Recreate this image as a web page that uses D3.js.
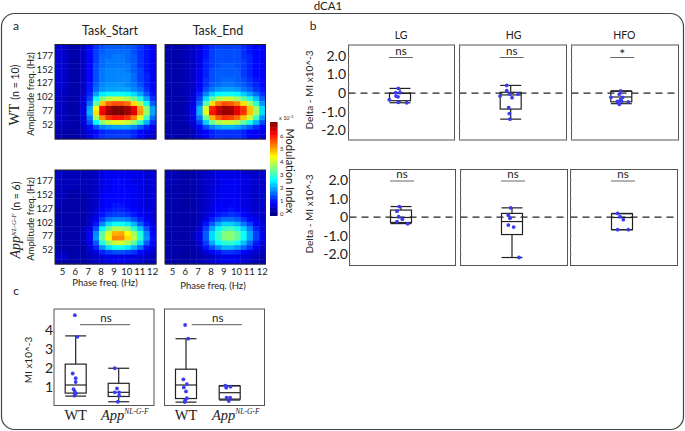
<!DOCTYPE html>
<html><head><meta charset="utf-8">
<script src="https://cdn.jsdelivr.net/npm/d3@7"></script>
<style>html,body{margin:0;background:#fff}svg{display:block}</style></head>
<body><div id="c"></div>
<script>
// Modulation index ×10^-4 : 20 amplitude rows (top to bottom), 16 phase columns
const wtStart=[
[6,5,3,3,4,8,12,14,15,15,15,15,14,12,10,8],
[6,5,3,3,5,9,13,15,16,16,16,16,14,12,10,8],
[6,5,3,3,5,9,13,16,16,17,17,16,15,12,10,8],
[6,5,3,3,5,9,13,16,17,17,17,16,15,12,10,8],
[6,5,3,3,5,9,14,16,17,17,17,17,15,12,10,8],
[6,5,3,3,5,9,14,17,18,18,18,17,15,13,10,8],
[6,5,3,3,5,9,14,17,18,18,18,18,16,13,11,8],
[6,5,3,3,5,9,14,17,18,18,18,18,16,13,11,8],
[6,5,3,3,5,10,15,18,19,19,19,18,17,14,11,9],
[5,5,3,3,5,10,16,19,20,20,20,20,18,16,12,9],
[5,4,3,3,5,11,20,25,27,27,27,26,24,20,15,10],
[5,4,3,3,6,13,27,35,39,40,40,38,34,28,20,12],
[5,4,3,3,6,16,33,48,54,56,56,54,46,38,27,15],
[5,4,3,3,7,20,44,61,67,70,70,68,62,50,36,20],
[5,4,3,3,7,21,46,62,68,70,70,68,63,51,37,20],
[5,4,3,3,6,17,37,52,58,60,60,58,52,42,30,16],
[5,4,3,3,6,14,26,36,40,42,42,40,36,30,21,12],
[4,3,3,3,5,9,14,18,19,20,20,20,18,15,11,8],
[3,3,2,3,4,7,9,11,12,12,12,12,11,9,7,6],
[3,3,2,3,4,7,10,12,13,13,13,13,11,9,7,5]];
const wtEnd=[
[3,3,3,4,5,7,10,12,13,13,13,13,12,10,8,8],
[3,3,3,4,5,7,10,13,14,14,14,14,12,10,9,8],
[3,3,3,4,5,7,10,13,14,14,14,14,12,11,9,8],
[3,3,3,4,5,7,11,13,14,14,14,14,13,11,9,8],
[3,3,3,4,5,7,11,13,14,15,15,14,13,11,9,8],
[3,3,3,4,5,8,11,14,15,15,15,15,13,11,9,8],
[3,3,3,4,5,8,11,14,15,15,15,15,13,11,9,8],
[3,3,3,4,5,8,12,14,15,16,16,15,14,12,10,9],
[3,3,3,4,5,8,12,15,16,17,17,16,15,13,11,9],
[3,3,3,4,5,9,14,17,19,20,20,19,17,15,12,10],
[3,3,3,4,6,11,18,23,26,27,27,26,23,20,16,12],
[3,3,3,4,6,13,24,33,38,40,40,37,33,28,22,15],
[3,3,3,4,7,16,32,46,53,56,55,52,46,38,29,19],
[3,3,3,4,8,21,41,59,65,68,67,62,58,48,37,24],
[3,3,3,4,8,21,42,60,66,68,68,63,58,48,37,24],
[3,3,3,4,7,17,33,49,55,58,57,54,48,40,30,19],
[3,3,3,4,6,13,23,34,38,40,40,38,33,28,21,14],
[3,3,3,3,5,9,14,18,20,21,21,20,18,15,12,9],
[3,3,3,3,4,7,9,11,12,12,12,12,11,9,8,7],
[3,3,3,3,4,7,9,11,12,12,12,12,11,9,8,6]];
const koStart=[
[5,4,4,4,4,4,5,7,8,8,8,8,7,7,6,6],
[5,4,4,4,4,4,5,7,8,8,8,8,7,7,6,6],
[4,4,4,4,4,4,5,7,8,9,9,8,7,7,6,6],
[4,4,4,4,4,4,5,7,8,9,9,8,8,7,6,6],
[4,4,3,3,4,4,5,7,8,9,9,9,8,7,6,6],
[4,4,3,3,3,4,5,8,9,9,9,9,8,7,6,6],
[4,3,3,3,3,4,5,8,9,9,9,9,8,7,6,6],
[4,3,3,3,3,4,5,8,9,10,10,9,8,7,6,6],
[3,3,3,3,3,4,6,9,10,11,11,10,9,8,7,6],
[3,3,3,3,3,4,6,10,12,13,13,12,10,8,7,6],
[3,3,3,3,3,5,8,13,17,18,18,17,14,11,8,6],
[3,3,3,3,3,5,10,18,24,27,27,25,21,15,10,7],
[3,3,3,3,4,7,14,26,34,38,38,36,29,22,14,8],
[3,3,3,3,4,8,18,33,41,49,50,44,37,28,18,9],
[3,3,3,3,4,8,19,34,43,52,52,46,39,29,19,10],
[3,3,3,3,4,7,15,28,36,40,41,38,32,24,15,9],
[3,3,3,3,3,6,11,19,24,27,27,25,21,16,10,7],
[4,4,3,3,3,5,7,11,13,14,14,13,12,9,7,5],
[5,5,3,3,3,4,5,6,7,7,7,7,6,6,5,4],
[3,3,3,3,3,4,5,6,7,8,8,7,6,5,4,4]];
const koEnd=[
[4,4,3,3,3,4,5,6,7,7,7,7,6,5,5,5],
[4,4,3,3,3,4,5,6,7,7,7,7,7,6,5,5],
[4,3,3,3,3,4,5,6,7,8,8,8,7,6,5,5],
[4,3,3,3,3,4,5,6,7,8,8,8,7,6,5,5],
[3,3,3,3,3,4,5,6,7,8,8,8,7,6,5,5],
[3,3,3,3,3,4,5,6,7,8,8,8,7,6,5,5],
[3,3,3,2,3,4,5,6,8,8,8,8,7,6,5,5],
[3,3,3,2,3,4,5,7,8,8,9,8,7,6,5,5],
[3,3,3,3,3,4,5,7,8,9,10,9,8,6,5,5],
[3,3,3,3,3,4,6,8,10,11,12,11,9,7,6,5],
[3,3,3,3,3,4,7,11,14,16,16,15,12,9,7,5],
[3,3,3,3,3,5,10,15,20,23,23,21,17,13,8,6],
[3,3,3,3,3,6,13,20,26,30,31,28,23,17,11,6],
[3,3,3,3,4,7,15,24,30,35,36,33,27,20,13,7],
[3,3,3,3,4,7,15,24,30,35,36,33,27,20,13,7],
[3,3,3,3,3,6,13,20,26,29,30,27,22,16,10,6],
[3,3,3,3,3,5,10,14,18,21,21,19,16,12,8,5],
[3,3,3,2,3,4,6,9,10,12,12,11,9,7,5,4],
[3,3,2,2,3,3,4,5,6,7,7,7,6,5,4,3],
[3,3,3,3,3,4,5,6,7,8,8,8,6,5,4,3]];

const ampTicks=[177,152,127,102,77,52];
const phaseTicks=[5,6,7,8,9,10,11,12];
const colorTicks=[0,1,2,3,4,5,6];
const deltaTicks=[2,1,0,-1,-2];
const deltaLabels=["2.0","1.0","0","-1.0","-2.0"];
const miTicks=[1,2,3,4];

// Panel b : box statistics [low, q1, median, q3, high], points [offset, value]
const bandNames=["LG","HG","HFO"];
const topBoxes=[[-0.52,-0.41,-0.02,0,0.25],[-1.4,-0.86,-0.1,0.04,0.41],[-0.57,-0.47,-0.21,0.09,0.12]];
const botBoxes=[[-0.35,-0.29,-0.02,0.38,0.57],[-2.18,-0.94,-0.24,0.2,0.5],[-0.68,-0.68,-0.02,0.18,0.2]];
const topSig=["ns","ns","*"];
const botSig=["ns","ns","ns"];
const topLG=[[-5,.25],[-13,.02],[0,.02],[-12,-.16],[-6,-.2],[-32,-.36],[-5,-.5],[20,-.52]];
const topHG=[[-12,.41],[-12,.13],[22,-.05],[-32,-.16],[-2,-.05],[4,-.25],[-6,-.78],[-4,-1.1],[-2,-1.4]];
const topHFO=[[-2,.11],[-6,-.06],[-31,-.23],[4,-.23],[-2,-.34],[-12,-.45],[1,-.43],[21,-.47],[-6,-.6]];
const botLG=[[-5,.57],[-12,.32],[-7,.02],[-12,-.24],[4,-.11],[20,-.36]];
const botHG=[[-4,.5],[-11,.1],[-6,-.06],[-11,-.43],[5,-.54],[21,-2.18]];
const botHFO=[[-13,.2],[-6,.02],[4,-.14],[-13,-.68],[19,-.68]];

// Panel c
const groupNames=["WT","App"];
const startBoxes=[[0.5,0.66,1.09,2.2,3.7],[0.2,0.48,0.7,1.18,1.98]];
const endBoxes=[[0.18,0.37,1.09,1.93,3.55],[0.29,0.34,0.68,1.04,1.06]];
const startWT=[[-.02,4.8],[.04,3.65],[-.07,1.7],[0,1.45],[0,1.25],[-.05,.87],[-.02,.73],[0,.64],[-.03,.52]];
const startApp=[[-.09,1.98],[-.04,.91],[-.09,.7],[.01,.7],[.01,.52],[-.02,.2]];
const endWT=[[-.02,4.28],[.05,3.55],[-.06,1.39],[.02,1.14],[-.05,.96],[0,.75],[.02,.39],[-.02,.28],[-.03,.18]];
const endApp=[[-.1,1.06],[.02,1.0],[-.08,.95],[-.07,.42],[.01,.42],[-.02,.24]];

const W=685,H=431,SANS='Lato,"Noto Sans",sans-serif',SERIF='"Liberation Serif",serif';
const svg=d3.select("#c").append("svg").attr("width",W).attr("height",H).attr("viewBox",`0 0 ${W} ${H}`);
const txtC="#222";
function text(x,y,s,o={}){
  const t=svg.append("text").attr("x",0).attr("y",0)
   .attr("transform",`translate(${x},${y})`+(o.rot?` rotate(${o.rot})`:""))
   .attr("text-anchor",o.anchor||"middle").attr("font-family",o.font||SANS)
   .attr("font-size",o.size||10).attr("fill",o.fill||txtC).attr("font-style",o.style||null).text(s);
  return t;
}
function jet(t){
  t=Math.max(0,Math.min(1,t));
  const f=v=>Math.round(255*Math.max(0,Math.min(1,v)));
  return `rgb(${f(Math.min(4*t-1.5,-4*t+4.5))},${f(Math.min(4*t-.5,-4*t+3.5))},${f(Math.min(4*t+.5,-4*t+2.5))})`;
}
const color=d3.scaleLinear().domain([0,70]).range([0,1]);

// Outer frame
svg.append("rect").attr("x",1.5).attr("y",13.5).attr("width",682).attr("height",416).attr("rx",13)
 .attr("fill","none").attr("stroke","#444").attr("stroke-width",1.2);
text(328,10,"dCA1",{size:11.5});
text(16,30,"a",{size:12});text(313,30,"b",{size:12});text(16,295,"c",{size:12});

// Heatmaps
function heat(m,x0,x1,y0,y1,opts){
  const g=svg.append("g");
  const cx=d3.scaleBand().domain(d3.range(16)).range([x0,x1]);
  const cy=d3.scaleBand().domain(d3.range(20)).range([y0,y1]);
  m.forEach((row,r)=>g.selectAll(null).data(row).enter().append("rect")
    .attr("x",(d,c)=>cx(c)).attr("y",cy(r)).attr("width",cx.bandwidth()+.4).attr("height",cy.bandwidth()+.4)
    .attr("fill",d=>jet(color(d))));
  g.append("rect").attr("x",x0).attr("y",y0).attr("width",x1-x0).attr("height",y1-y0)
   .attr("fill","none").attr("stroke","#222").attr("stroke-width",1);
  if(opts.yaxis){
    const ya=d3.scaleLinear().domain([26,196]).range([y1,y0]);
    const a=svg.append("g").attr("transform",`translate(${x0-1},0)`)
      .call(d3.axisLeft(ya).tickValues(ampTicks).tickSize(0).tickPadding(1));
    a.select(".domain").remove();
    a.selectAll("text").attr("font-family",SANS).attr("font-size",9.5).attr("fill",txtC);
  }
  if(opts.xaxis){
    const xa=d3.scaleLinear().domain([4.46,12.3]).range([x0,x1]);
    const a=svg.append("g").attr("transform",`translate(0,${y1+3})`)
      .call(d3.axisBottom(xa).tickValues(phaseTicks).tickFormat(d3.format("d")).tickSize(0).tickPadding(1));
    a.select(".domain").remove();
    a.selectAll("text").attr("font-family",SANS).attr("font-size",9.5).attr("fill",txtC);
  }
}
heat(wtStart,55,156,44.5,139,{yaxis:true});
heat(wtEnd,165,265.5,44.5,139,{});
heat(koStart,55,156,170,264,{yaxis:true,xaxis:true});
heat(koEnd,165,265.5,170,264,{xaxis:true});
text(110,35,"Task_Start",{size:12.5});
text(218,35,"Task_End",{size:12.5});
text(34,94,"Amplitude freq. (Hz)",{rot:-90,size:9.5});
text(34,219,"Amplitude freq. (Hz)",{rot:-90,size:9.5});
text(105,286,"Phase freq. (Hz)",{size:9.5});
text(213,289,"Phase freq. (Hz)",{size:9.5});
// group labels
const wl=text(18.5,95,"",{rot:-90,size:10});
wl.append("tspan").attr("font-family",SERIF).attr("font-size",14).text("WT");
wl.append("tspan").attr("font-size",10.5).attr("dx",4).text("(n = 10)");
const kl=text(20,220,"",{rot:-90,size:10});
kl.append("tspan").attr("font-family",SERIF).attr("font-style","italic").attr("font-size",14).text("App");
kl.append("tspan").attr("font-family",SERIF).attr("font-style","italic").attr("font-size",7).attr("dy",-4).text("NL-G-F");
kl.append("tspan").attr("font-size",10.5).attr("dy",4).attr("dx",3).text("(n = 6)");

// Colour bar
const cbY=d3.scaleLinear().domain([0,7]).range([214,122]);
const cb=svg.append("g");
cb.append("rect").attr("x",270).attr("y",213).attr("width",7.5).attr("height",3).attr("fill",jet(0));
cb.selectAll(null).data(d3.range(0,70,1)).enter().append("rect")
  .attr("x",270).attr("width",7.5).attr("y",d=>cbY((d+1)/10)).attr("height",d=>cbY(d/10)-cbY((d+1)/10)+.5)
  .attr("fill",d=>jet(color(d+.5)));
const cba=svg.append("g").attr("transform","translate(278,0)").call(d3.axisRight(cbY).tickValues(colorTicks).tickFormat(d3.format("d")).tickSize(0).tickPadding(2));
cba.select(".domain").remove();
cba.selectAll("text").attr("font-family",SANS).attr("font-size",6).attr("fill",txtC);
const cbt=text(279,120,"x 10",{anchor:"start",size:5.5});
cbt.append("tspan").attr("dy",-2).attr("font-size",4).text("-3");
text(286,171,"Modulation Index",{rot:90,size:11});

// Boxes
function box(g,cx,hw,y,b){
  const [lo,q1,med,q3,hi]=b;
  g.append("line").attr("x1",cx).attr("x2",cx).attr("y1",y(hi)).attr("y2",y(q3));
  g.append("line").attr("x1",cx).attr("x2",cx).attr("y1",y(q1)).attr("y2",y(lo));
  [hi,lo].forEach(v=>g.append("line").attr("x1",cx-hw).attr("x2",cx+hw).attr("y1",y(v)).attr("y2",y(v)));
  g.append("rect").attr("x",cx-hw).attr("width",2*hw).attr("y",y(q3)).attr("height",y(q1)-y(q3)).attr("fill","none");
  g.append("line").attr("x1",cx-hw).attr("x2",cx+hw).attr("y1",y(med)).attr("y2",y(med));
}
function dots(x,y,pts){
  svg.append("g").selectAll("circle").data(pts).enter().append("circle")
    .attr("cx",d=>x(d[0])).attr("cy",d=>y(d[1])).attr("r",1.9).attr("fill","#3b3bf2");
}
function deltaPanel(x0,x1,y0,y1,y,cx,b,pts,sig,sigY){
  svg.append("rect").attr("x",x0).attr("y",y0).attr("width",x1-x0).attr("height",y1-y0)
    .attr("fill","#fff").attr("stroke","#555").attr("stroke-width",1);
  const m=svg.append("g").attr("transform",`translate(${x0},0)`)
    .call(d3.axisRight(y).ticks(10).tickSize(1.5).tickFormat(""));
  m.select(".domain").remove();m.selectAll("line").attr("stroke","#bbb");
  const g=svg.append("g").attr("stroke","#222").attr("stroke-width",1.2).attr("fill","none");
  box(g,cx,10.5,y,b);
  svg.append("line").attr("x1",x0).attr("x2",x1).attr("y1",y(0)).attr("y2",y(0))
    .attr("stroke","#222").attr("stroke-width",1.2).attr("stroke-dasharray","7 5");
  const xs=d3.scaleLinear().domain([-3,3]).range([cx-1,cx+1]);
  dots(xs,y,pts);
  svg.append("line").attr("x1",cx-11).attr("x2",cx+13).attr("y1",sigY).attr("y2",sigY).attr("stroke","#666").attr("stroke-width",1);
  if(sig==="*") text(cx+1,sigY+1,sig,{size:14});
  else text(cx+1,sigY-3,sig,{size:11.5});
}
const yTop=d3.scaleLinear().domain([-2.52,2.58]).range([140,45]);
const yBot=d3.scaleLinear().domain([-2.6,2.58]).range([265.3,169.3]);
const tPanels=[[348.5,454.5,400],[459.5,566.5,510.7],[571.5,678.5,621.3]];
const bPanels=[[349.5,455.5,401],[460.5,567.5,512],[570.5,677.5,622]];
const topPts=[topLG,topHG,topHFO],botPts=[botLG,botHG,botHFO];
tPanels.forEach((p,i)=>deltaPanel(p[0],p[1],45,140,yTop,p[2],topBoxes[i],topPts[i],topSig[i],57.5));
bPanels.forEach((p,i)=>deltaPanel(p[0],p[1],169.5,265.5,yBot,p[2],botBoxes[i],botPts[i],botSig[i],181));
bandNames.forEach((n,i)=>text(tPanels[i][2]+(i?3:1),39,n,{size:10.5}));
function dAxis(x,y){
  const a=svg.append("g").attr("transform",`translate(${x},0)`)
   .call(d3.axisLeft(y).tickValues(deltaTicks).tickFormat((d,i)=>deltaLabels[i]).tickSize(0).tickPadding(0));
  a.select(".domain").remove();
  a.selectAll("text").attr("font-family",SANS).attr("font-size",14).attr("fill",txtC);
}
dAxis(346,yTop);dAxis(348,yBot);
text(313,90,"Delta - MI  x10^-3",{rot:-90,size:10});
text(313,214,"Delta - MI  x10^-3",{rot:-90,size:10});

// Panel c
const yMI=d3.scaleLinear().domain([0,5.13]).range([405.5,309]);
function miPanel(x0,x1,c0,c1,boxes,p0,p1,sx0,sx1){
  svg.append("rect").attr("x",x0).attr("y",309).attr("width",x1-x0).attr("height",96.5)
    .attr("fill","#fff").attr("stroke","#555").attr("stroke-width",1);
  const x=d3.scaleLinear().domain([0,1]).range([c0,c1]);
  const g=svg.append("g").attr("stroke","#222").attr("stroke-width",1.2).attr("fill","none");
  box(g,x(0),10.5,yMI,boxes[0]);box(g,x(1),10.5,yMI,boxes[1]);
  dots(x,yMI,p0);
  dots(d=>x(1+d),yMI,p1);
  svg.append("line").attr("x1",sx0).attr("x2",sx1).attr("y1",324.7).attr("y2",324.7).attr("stroke","#555").attr("stroke-width",1);
  text((sx0+sx1)/2+1,322,"ns",{size:11.5});
  text(x(0),420,groupNames[0],{font:SERIF,size:14.5});
  const t=text(x(1)+6,420,"",{font:SERIF,size:14.5,style:"italic"});
  t.append("tspan").text(groupNames[1]);
  t.append("tspan").attr("font-size",7.5).attr("dy",-6).text("NL-G-F");
}
miPanel(54,154,75.7,118.7,startBoxes,startWT,startApp,80,130);
miPanel(164.5,264.5,186,229.7,endBoxes,endWT,endApp,191.7,241.7);
const ma=svg.append("g").attr("transform","translate(53,0)").call(d3.axisLeft(yMI).tickValues(miTicks).tickFormat(d3.format("d")).tickSize(0).tickPadding(0));
ma.select(".domain").remove();
ma.selectAll("text").attr("font-family",SANS).attr("font-size",14).attr("fill",txtC);
text(32,360,"MI x10^-3",{rot:-90,size:10});
</script></body></html>
